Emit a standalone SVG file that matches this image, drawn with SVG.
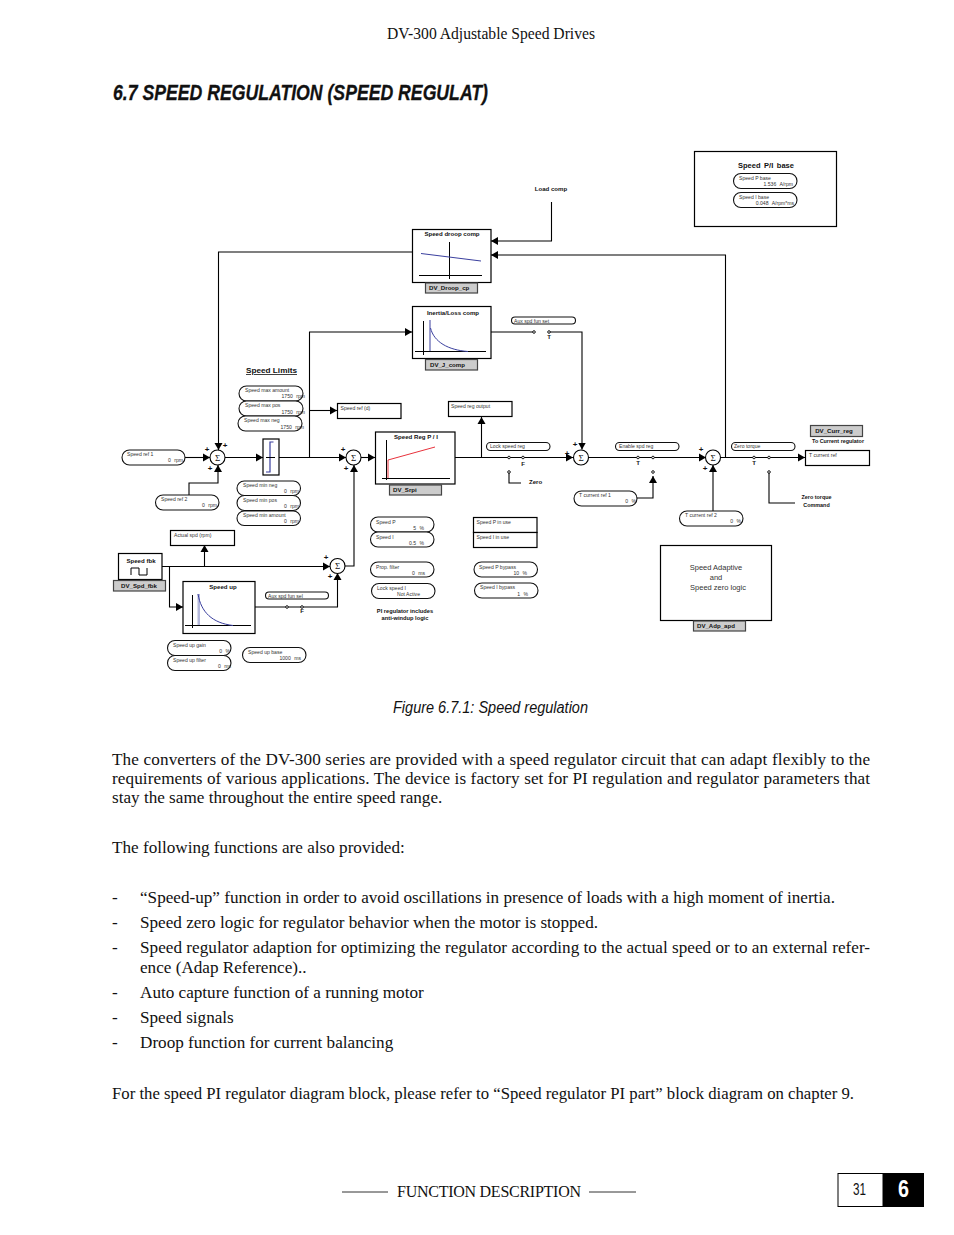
<svg xmlns="http://www.w3.org/2000/svg" width="954" height="1235" viewBox="0 0 954 1235">
<style>
text{font-family:"Liberation Sans",Arial,sans-serif;fill:#111}
.s{font-size:5.100px;fill:#333}
.e{word-spacing:2px}
.b{font-size:6.100px;font-weight:bold}
.c{text-anchor:middle}
.e{text-anchor:end}
.plus{font-size:8px;font-weight:bold;text-anchor:middle}
.p{fill:#fff;stroke:#111;stroke-width:1.100}
.bx{fill:#fff;stroke:#000;stroke-width:1.200}
.tag{fill:#ccc;stroke:#444;stroke-width:1.200}
.sum{fill:#fff;stroke:#000;stroke-width:1.100}
.sg{font-family:"Liberation Serif",serif;font-size:9px;text-anchor:middle}
.w{fill:none;stroke:#000;stroke-width:1.100}
.o{fill:#fff;stroke:#000;stroke-width:.9}
.bl{fill:none;stroke:#3a3f9e;stroke-width:1}
.ax{stroke:#000;stroke-width:1;fill:none}
.body{font-family:"Liberation Serif",serif;font-size:17.150px;fill:#111}
.a{marker-end:url(#ar)}
</style>
<defs>
<marker id="ar" markerUnits="userSpaceOnUse" markerWidth="8" markerHeight="9" refX="7" refY="4.500" orient="auto"><path d="M0 0.500L7 4.500L0 8.500Z" fill="#000"/></marker>
</defs>
<rect width="954" height="1235" fill="#fff"/>

<g id="page-text">
<text x="491" y="39" text-anchor="middle" textLength="208" lengthAdjust="spacingAndGlyphs" style="font-family:'Liberation Serif',serif;font-size:15.800px">DV-300 Adjustable Speed Drives</text>
<text x="113" y="100" textLength="375" lengthAdjust="spacingAndGlyphs" style="font-size:22px;font-weight:bold;font-style:italic;stroke:#111;stroke-width:.3px">6.7 SPEED REGULATION (SPEED REGULAT)</text>
<text x="393" y="713" textLength="195" lengthAdjust="spacingAndGlyphs" style="font-size:16px;font-style:italic">Figure 6.7.1: Speed regulation</text>
<text class="body" x="112" y="765" textLength="758">The converters of the DV-300 series are provided with a speed regulator circuit that can adapt flexibly to the</text>
<text class="body" x="112" y="784" textLength="758">requirements of various applications. The device is factory set for PI regulation and regulator parameters that</text>
<text class="body" x="112" y="803">stay the same throughout the entire speed range.</text>
<text class="body" x="112" y="853">The following functions are also provided:</text>
<text class="body" x="112" y="903">-</text><text class="body" x="140" y="903" textLength="695">“Speed-up” function in order to avoid oscillations in presence of loads with a high moment of inertia.</text>
<text class="body" x="112" y="928">-</text><text class="body" x="140" y="928" textLength="458">Speed zero logic for regulator behavior when the motor is stopped.</text>
<text class="body" x="112" y="953">-</text><text class="body" x="140" y="953" textLength="730">Speed regulator adaption for optimizing the regulator according to the actual speed or to an external refer-</text>
<text class="body" x="140" y="973">ence (Adap Reference)..</text>
<text class="body" x="112" y="998">-</text><text class="body" x="140" y="998">Auto capture function of a running motor</text>
<text class="body" x="112" y="1023">-</text><text class="body" x="140" y="1023">Speed signals</text>
<text class="body" x="112" y="1048">-</text><text class="body" x="140" y="1048">Droop function for current balancing</text>
<text class="body" x="112" y="1099" textLength="742" lengthAdjust="spacingAndGlyphs">For the speed PI regulator diagram block, please refer to “Speed regulator PI part” block diagram on chapter 9.</text>
<path d="M342 1192H388M589 1192H636" stroke="#333" stroke-width="1"/>
<text x="397" y="1197" textLength="184" style="font-family:'Liberation Serif',serif;font-size:16px">FUNCTION DESCRIPTION</text>
<rect x="838" y="1173.500" width="45" height="33" fill="#fff" stroke="#000"/>
<rect x="883" y="1173" width="41" height="34" fill="#000"/>
<text x="853" y="1195" textLength="13" lengthAdjust="spacingAndGlyphs" style="font-size:17px">31</text>
<text x="898" y="1197" textLength="11" lengthAdjust="spacingAndGlyphs" style="font-size:24px;font-weight:bold;fill:#fff">6</text>
</g>

<g id="connectors">
<path class="w a" d="M185 457.500H210"/>
<path class="w a" d="M189 495V483H218V465"/>
<path class="w a" d="M412 252H218.500V450"/>
<path class="w a" d="M225 457.500H263"/>
<path class="w a" d="M279 457.500H346"/>
<path class="w a" d="M309.500 457.500V332H412"/>
<path class="w a" d="M309.500 410.500H337"/>
<path class="w a" d="M162 566.500H330"/>
<path class="w a" d="M204.500 566.500V545"/>
<path class="w a" d="M169.500 566.500V607H183"/>
<path class="w a" d="M255 607H337.500V573"/>
<path class="w a" d="M344 566H354V465"/>
<path class="w a" d="M361 457.500H375"/>
<path class="w a" d="M455 457.500H573"/>
<path class="w a" d="M481.500 457.500V417"/>
<path class="w" d="M509 472V483H521"/>
<path class="w a" d="M491 332H534M549 332H582V449.500"/>
<path class="w a" d="M588.500 457.500H706"/>
<path class="w a" d="M636 498H653V476"/>
<path class="w a" d="M713 511V465"/>
<path class="w a" d="M720 457.500H805"/>
<path class="w a" d="M725.500 457.500V255H491"/>
<path class="w a" d="M551.500 202V241H491"/>
<path class="w" d="M769 472V503H795"/>
<g id="switch-contacts">
<circle class="o" cx="287" cy="607" r="1.300"/><circle class="o" cx="302" cy="607" r="1.300"/>
<circle class="o" cx="534" cy="332" r="1.300"/><circle class="o" cx="549" cy="332" r="1.300"/>
<circle class="o" cx="509" cy="457.500" r="1.300"/><circle class="o" cx="523" cy="457.500" r="1.300"/><circle class="o" cx="509" cy="472" r="1.300"/>
<circle class="o" cx="638" cy="457.500" r="1.300"/><circle class="o" cx="653" cy="457.500" r="1.300"/><circle class="o" cx="653" cy="472" r="1.300"/>
<circle class="o" cx="754" cy="457.500" r="1.300"/><circle class="o" cx="769" cy="457.500" r="1.300"/><circle class="o" cx="769" cy="472" r="1.300"/>
</g>
<text class="b c" x="302" y="613">F</text>
<text class="b c" x="523" y="466">F</text>
<text class="b c" x="549" y="339">T</text>
<text class="b c" x="638" y="465">T</text>
<text class="b c" x="754" y="465">T</text>
</g>

<g id="speed-ref-1"><rect class="p" x="122" y="450" width="63" height="15" rx="7.500"/><text class="s" x="127" y="455.500">Speed ref 1</text><text class="s e" x="183" y="462">0 rpm</text></g>
<g id="speed-ref-2"><rect class="p" x="155.500" y="495" width="63.500" height="15" rx="7.500"/><text class="s" x="161" y="501">Speed ref 2</text><text class="s e" x="217" y="507">0 rpm</text></g>

<g id="sum-1"><circle class="sum" cx="217.500" cy="457.500" r="7.500"/><text class="sg" x="217.500" y="460.500">Σ</text><text class="plus" x="207" y="452">+</text><text class="plus" x="225" y="448">+</text><text class="plus" x="210" y="471">+</text></g>
<g id="sum-2"><circle class="sum" cx="337.500" cy="566" r="7.500"/><text class="sg" x="337.500" y="569">Σ</text><text class="plus" x="326" y="560">+</text><text class="plus" x="330" y="579">+</text></g>
<g id="sum-3"><circle class="sum" cx="353.500" cy="457.500" r="7.500"/><text class="sg" x="353.500" y="460.500">Σ</text><text class="plus" x="343" y="452">+</text><text class="plus" x="346" y="471">+</text></g>
<g id="sum-4"><circle class="sum" cx="581" cy="457.500" r="7.500"/><text class="sg" x="581" y="460.500">Σ</text><text class="plus" x="575" y="447">+</text><text class="plus" x="567" y="456">+</text></g>
<g id="sum-5"><circle class="sum" cx="713" cy="457.500" r="7.500"/><text class="sg" x="713" y="460.500">Σ</text><text class="plus" x="701" y="452">+</text><text class="plus" x="705" y="471">+</text></g>

<g id="speed-limits">
<text x="246" y="373" textLength="51" lengthAdjust="spacingAndGlyphs" text-decoration="underline" style="font-size:8px;font-weight:bold">Speed Limits</text>
<rect class="p" x="239" y="386" width="64" height="15" rx="7.500"/><text class="s" x="245" y="392">Speed max amount</text><text class="s e" x="305" y="398">1750 rpm</text>
<rect class="p" x="239" y="401" width="64" height="15" rx="7.500"/><text class="s" x="245" y="407">Speed max pos</text><text class="s e" x="305" y="413.500">1750 rpm</text>
<rect class="p" x="238" y="416" width="64" height="15" rx="7.500"/><text class="s" x="244" y="422">Speed max neg</text><text class="s e" x="304" y="428.500">1750 rpm</text>
<rect class="p" x="237" y="481" width="63.500" height="14.500" rx="7.200"/><text class="s" x="243" y="487">Speed min neg</text><text class="s e" x="299" y="493">0 rpm</text>
<rect class="p" x="237" y="495.500" width="63.500" height="15" rx="7.500"/><text class="s" x="243" y="502">Speed min pos</text><text class="s e" x="299" y="508">0 rpm</text>
<rect class="p" x="237" y="511" width="63.500" height="14.500" rx="7.200"/><text class="s" x="243" y="517">Speed min amount</text><text class="s e" x="299" y="523">0 rpm</text>
</g>
<g id="limiter"><rect class="bx" x="263" y="439" width="16" height="36"/><path class="bl" style="stroke-width:1.200" d="M273.500 442H270V472H266"/><path class="ax" d="M266 457.500H275"/></g>

<g id="actual-spd"><rect class="bx" x="170.500" y="530.500" width="64" height="15"/><text class="s" x="174" y="537">Actual spd (rpm)</text></g>
<g id="speed-fbk"><rect class="bx" x="118.500" y="553.500" width="43.500" height="26"/><text class="b c" x="141" y="562.500">Speed fbk</text><path class="ax" d="M131 575V568H139V575H147V568"/><rect class="tag" x="113.500" y="580.500" width="52" height="10.500"/><text class="b c" x="139" y="587.500">DV_Spd_fbk</text></g>
<g id="speed-up"><rect class="bx" x="183" y="581.500" width="72" height="52"/><text class="b c" x="223" y="588.500">Speed up</text><rect x="197.500" y="594" width="2.500" height="31" fill="#b5b9dc"/><path class="ax" d="M192.500 595V628M185 625.500H251"/><path class="bl" d="M198 594C201 612 212 623 233 625.500"/></g>
<g id="aux-spd-fun-sel-1"><rect class="p" x="265.500" y="592" width="63" height="7" rx="3.500"/><text class="s" x="268" y="597.500">Aux spd fun sel</text></g>
<g id="speed-up-gain"><rect class="p" x="167.500" y="640.500" width="63.500" height="15" rx="7.500"/><text class="s" x="173" y="646.500">Speed up gain</text><text class="s e" x="230" y="653">0 %</text></g>
<g id="speed-up-filter"><rect class="p" x="167.500" y="655.500" width="63.500" height="15" rx="7.500"/><text class="s" x="173" y="661.500">Speed up filter</text><text class="s e" x="231" y="668">0 ms</text></g>
<g id="speed-up-base"><rect class="p" x="242.500" y="647.500" width="63.500" height="15" rx="7.500"/><text class="s" x="248" y="653.500">Speed up base</text><text class="s e" x="301" y="660">1000 ms</text></g>

<g id="speed-ref-d"><rect class="bx" x="337.500" y="403.500" width="63.500" height="15"/><text class="s" x="340.500" y="409.500">Speed ref (d)</text></g>
<g id="speed-reg-output"><rect class="bx" x="448.500" y="401.500" width="63.500" height="15"/><text class="s" x="451" y="407.500">Speed reg output</text></g>
<g id="speed-reg-pi"><rect class="bx" x="375.500" y="432" width="79.500" height="52"/><text class="b c" x="416" y="439">Speed Reg P / I</text><path class="ax" d="M386.500 440V480M382 478.500H450"/><path d="M388 478V460L435 447" fill="none" stroke="#e8323c" stroke-width="1"/><rect class="tag" x="389.500" y="485" width="52" height="10"/><text class="b" x="393" y="491.500">DV_Srpi</text></g>
<g id="lock-speed-reg"><rect class="p" x="486.500" y="442.500" width="63.500" height="8" rx="4"/><text class="s" x="490" y="448">Lock speed reg</text></g>
<text class="b" x="529" y="484" id="zero-label">Zero</text>

<g id="speed-p"><rect class="p" x="370.500" y="517" width="63.500" height="15" rx="7.500"/><text class="s" x="376" y="523.500">Speed P</text><text class="s e" x="424" y="529.500">5 %</text></g>
<g id="speed-i"><rect class="p" x="370.500" y="532" width="63.500" height="15" rx="7.500"/><text class="s" x="376" y="538.500">Speed I</text><text class="s e" x="424" y="544.500">0.5 %</text></g>
<g id="prop-filter"><rect class="p" x="370.500" y="562" width="63.500" height="15" rx="7.500"/><text class="s" x="376" y="568.500">Prop. filter</text><text class="s e" x="425" y="574.500">0 ms</text></g>
<g id="lock-speed-i"><rect class="p" x="371.500" y="583.500" width="63.500" height="15" rx="7.500"/><text class="s" x="377" y="589.500">Lock speed I</text><text class="s e" x="420" y="595.500" style="word-spacing:0">Not Active</text></g>
<g id="pi-note"><text class="b c" x="405" y="613" style="font-size:5.700px">PI regulator includes</text><text class="b c" x="405" y="620" style="font-size:5.700px">anti-windup logic</text></g>
<g id="speed-p-in-use"><rect class="bx" x="473.500" y="517.500" width="63.500" height="15"/><text class="s" x="476.500" y="524">Speed P in use</text></g>
<g id="speed-i-in-use"><rect class="bx" x="473.500" y="532.500" width="63.500" height="15"/><text class="s" x="476.500" y="539">Speed I in use</text></g>
<g id="speed-p-bypass"><rect class="p" x="474" y="562" width="63.500" height="15" rx="7.500"/><text class="s" x="479" y="568.500">Speed P bypass</text><text class="s e" x="527" y="574.500">10 %</text></g>
<g id="speed-i-bypass"><rect class="p" x="474.500" y="583" width="63.500" height="15" rx="7.500"/><text class="s" x="480" y="589">Speed I bypass</text><text class="s e" x="528" y="595.500">1 %</text></g>

<g id="speed-droop-comp"><rect class="bx" x="412.500" y="229.500" width="78.500" height="53"/><text class="b c" x="452" y="236">Speed droop comp</text><path class="ax" d="M449.500 242V279M419 275.500H482"/><path class="bl" d="M421 253.500L481 261"/><rect class="tag" x="425.500" y="283" width="52" height="10"/><text class="b" x="429" y="289.500">DV_Droop_cp</text></g>
<g id="inertia-loss-comp"><rect class="bx" x="412.500" y="306.500" width="78.500" height="52"/><text class="b c" x="453" y="315">Inertia/Loss comp</text><path class="ax" d="M423.500 321V355M415 351.500H486"/><path class="bl" d="M430 320V351M430.500 328C434 342 448 350 468 351.500"/><rect class="tag" x="425.500" y="359.500" width="52" height="10.500"/><text class="b" x="430" y="366.500">DV_J_comp</text></g>
<text class="b c" x="551" y="191" id="load-comp">Load comp</text>
<g id="aux-spd-fun-sel-2"><rect class="p" x="511.500" y="317" width="64" height="7" rx="3.500"/><text class="s" x="514" y="322.500">Aux spd fun set</text></g>

<g id="enable-spd-reg"><rect class="p" x="615.500" y="442.500" width="63.500" height="8" rx="4"/><text class="s" x="619" y="448">Enable spd reg</text></g>
<g id="zero-torque"><rect class="p" x="731.500" y="442.500" width="63.500" height="8" rx="4"/><text class="s" x="734" y="448">Zero torque</text></g>
<g id="t-current-ref-1"><rect class="p" x="574" y="491" width="63" height="15" rx="7.500"/><text class="s" x="579" y="497">T current ref 1</text><text class="s e" x="636" y="503">0 %</text></g>
<g id="t-current-ref-2"><rect class="p" x="679.500" y="511" width="63.500" height="15" rx="7.500"/><text class="s" x="685" y="517">T current ref 2</text><text class="s e" x="741" y="523">0 %</text></g>
<g id="t-current-ref-out"><rect class="bx" x="805.500" y="450.500" width="64" height="15"/><text class="s" x="809" y="456.500">T current ref</text></g>
<g id="dv-curr-reg"><rect class="tag" x="810.500" y="425.500" width="52" height="11"/><text class="b c" x="834" y="432.500">DV_Curr_reg</text><text class="b c" x="838" y="443" style="font-size:5.400px">To Current regulator</text></g>
<g id="zero-torque-command"><text class="b c" x="816.500" y="499" style="font-size:5.400px">Zero torque</text><text class="b c" x="816.500" y="507" style="font-size:5.400px">Command</text></g>

<g id="speed-pi-base"><rect class="bx" x="694.500" y="151.500" width="142" height="75"/><text class="c" x="766" y="168" style="font-size:7.500px;font-weight:bold;word-spacing:1.500px">Speed P/I base</text>
<rect class="p" x="733.500" y="173.500" width="63.500" height="15" rx="7.500"/><text class="s" x="739" y="180">Speed P base</text><text class="s e" x="793" y="186">1.536 A/rpm</text>
<rect class="p" x="733.500" y="192.500" width="63.500" height="15" rx="7.500"/><text class="s" x="739" y="199">Speed I base</text><text class="s e" x="794" y="205">0.048 A/rpm*ms</text></g>

<g id="speed-adaptive"><rect class="bx" x="660.500" y="545.500" width="111" height="75"/><text class="c" x="716" y="570" style="font-size:7.500px;fill:#333">Speed Adaptive</text><text class="c" x="716" y="580" style="font-size:7.500px;fill:#333">and</text><text class="c" x="718" y="590" style="font-size:7.500px;fill:#333">Speed zero logic</text><rect class="tag" x="693.500" y="621" width="52" height="10"/><text class="b" x="697" y="627.500">DV_Adp_apd</text></g>
</svg>
